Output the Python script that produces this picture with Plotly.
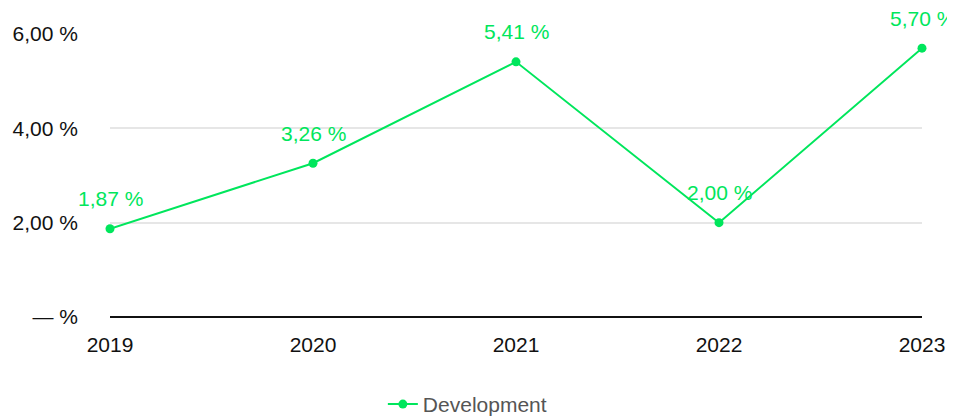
import plotly.graph_objects as go

years = ["2019", "2020", "2021", "2022", "2023"]
development = [1.87, 3.26, 5.41, 2.00, 5.70]
label_text = ["1,87 %", "3,26 %", "5,41 %", "2,00 %", "5,70 %"]
y_tickvals = [0, 2, 4, 6]
y_ticktext = ["— %", "2,00 %", "4,00 %", "6,00 %"]

green = "#00e65c"
fam = "Arial, Liberation Sans, Helvetica, sans-serif"

fig = go.Figure()
fig.add_trace(go.Scatter(
    x=years, y=development, mode="lines+markers",
    name="Development",
    line=dict(color=green, width=2),
    marker=dict(color=green, size=9),
    cliponaxis=False,
))

# category axis: annotation x given as category index
for i, (y, t) in enumerate(zip(development, label_text)):
    fig.add_annotation(x=i, y=y, text=t, showarrow=False, yshift=30,
                       font=dict(color=green, size=21, family=fam))

fig.update_layout(
    width=955, height=416,
    margin=dict(l=102, r=41, t=26, b=107),
    plot_bgcolor="white", paper_bgcolor="white",
    font=dict(family=fam, size=21, color="#111"),
    showlegend=True,
    legend=dict(orientation="h", x=0.481, xanchor="center", xref="container",
                y=0.047, yanchor="middle", yref="container",
                font=dict(color="#555", size=21)),
    xaxis=dict(type="category", range=[0, 4], showgrid=False, showline=False,
               zeroline=False, ticks="", tickfont=dict(size=21),
               ticklabelstandoff=13, automargin=False),
    yaxis=dict(range=[0, 6], tickvals=y_tickvals, ticktext=y_ticktext,
               showgrid=True, gridcolor="#e6e6e6", gridwidth=1.5,
               zeroline=True, zerolinecolor="#111", zerolinewidth=2,
               ticks="", ticklabelstandoff=31, tickfont=dict(size=21),
               automargin=False),
)

fig.write_html("out.html")
